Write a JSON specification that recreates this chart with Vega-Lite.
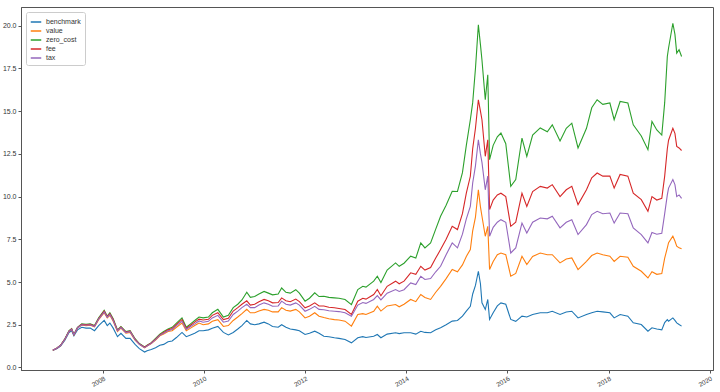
{
  "$schema": "https://vega.github.io/schema/vega-lite/v6.json",
  "width": 692,
  "height": 363,
  "autosize": "none",
  "padding": {"left": 21, "top": 7, "right": 7, "bottom": 22},
  "background": "white",
  "config": {
    "font": "Liberation Sans",
    "view": {"stroke": "#555", "strokeWidth": 1},
    "axis": {"grid": false, "domainColor": "#555", "tickColor": "#555", "labelColor": "#333", "labelFontSize": 7, "tickSize": 3, "labelPadding": 2, "title": null}
  },
  "data": {"values": [
    {"date":"2007-01-04","benchmark":1.00,"value":1.00,"zero_cost":1.00,"fee":1.00,"tax":1.00},
    {"date":"2007-02-01","benchmark":1.10,"value":1.12,"zero_cost":1.13,"fee":1.12,"tax":1.12},
    {"date":"2007-03-01","benchmark":1.25,"value":1.28,"zero_cost":1.30,"fee":1.29,"tax":1.28},
    {"date":"2007-04-01","benchmark":1.60,"value":1.65,"zero_cost":1.68,"fee":1.66,"tax":1.65},
    {"date":"2007-05-01","benchmark":2.05,"value":2.10,"zero_cost":2.15,"fee":2.12,"tax":2.11},
    {"date":"2007-05-20","benchmark":2.15,"value":2.22,"zero_cost":2.27,"fee":2.25,"tax":2.23},
    {"date":"2007-06-05","benchmark":1.85,"value":1.90,"zero_cost":1.93,"fee":1.92,"tax":1.91},
    {"date":"2007-07-01","benchmark":2.20,"value":2.30,"zero_cost":2.35,"fee":2.33,"tax":2.31},
    {"date":"2007-08-01","benchmark":2.35,"value":2.48,"zero_cost":2.55,"fee":2.52,"tax":2.50},
    {"date":"2007-09-01","benchmark":2.30,"value":2.45,"zero_cost":2.52,"fee":2.50,"tax":2.47},
    {"date":"2007-10-01","benchmark":2.30,"value":2.47,"zero_cost":2.55,"fee":2.52,"tax":2.50},
    {"date":"2007-11-01","benchmark":2.15,"value":2.38,"zero_cost":2.45,"fee":2.42,"tax":2.40},
    {"date":"2007-12-01","benchmark":2.45,"value":2.80,"zero_cost":2.90,"fee":2.86,"tax":2.83},
    {"date":"2008-01-10","benchmark":2.75,"value":3.20,"zero_cost":3.35,"fee":3.30,"tax":3.25},
    {"date":"2008-02-01","benchmark":2.45,"value":2.90,"zero_cost":3.00,"fee":2.97,"tax":2.93},
    {"date":"2008-02-20","benchmark":2.60,"value":3.05,"zero_cost":3.20,"fee":3.15,"tax":3.10},
    {"date":"2008-03-15","benchmark":2.30,"value":2.70,"zero_cost":2.85,"fee":2.80,"tax":2.75},
    {"date":"2008-04-15","benchmark":1.80,"value":2.10,"zero_cost":2.20,"fee":2.17,"tax":2.14},
    {"date":"2008-05-10","benchmark":2.00,"value":2.30,"zero_cost":2.40,"fee":2.37,"tax":2.33},
    {"date":"2008-06-15","benchmark":1.70,"value":2.00,"zero_cost":2.10,"fee":2.07,"tax":2.04},
    {"date":"2008-07-15","benchmark":1.70,"value":2.05,"zero_cost":2.15,"fee":2.12,"tax":2.09},
    {"date":"2008-08-20","benchmark":1.35,"value":1.60,"zero_cost":1.68,"fee":1.65,"tax":1.62},
    {"date":"2008-09-20","benchmark":1.10,"value":1.35,"zero_cost":1.40,"fee":1.38,"tax":1.36},
    {"date":"2008-10-28","benchmark":0.90,"value":1.15,"zero_cost":1.20,"fee":1.18,"tax":1.16},
    {"date":"2008-11-15","benchmark":0.98,"value":1.25,"zero_cost":1.30,"fee":1.28,"tax":1.26},
    {"date":"2008-12-15","benchmark":1.05,"value":1.40,"zero_cost":1.45,"fee":1.43,"tax":1.41},
    {"date":"2009-01-15","benchmark":1.15,"value":1.60,"zero_cost":1.70,"fee":1.66,"tax":1.63},
    {"date":"2009-02-15","benchmark":1.30,"value":1.85,"zero_cost":1.95,"fee":1.91,"tax":1.88},
    {"date":"2009-03-15","benchmark":1.35,"value":1.95,"zero_cost":2.10,"fee":2.05,"tax":2.00},
    {"date":"2009-04-15","benchmark":1.50,"value":2.10,"zero_cost":2.25,"fee":2.20,"tax":2.15},
    {"date":"2009-05-15","benchmark":1.55,"value":2.15,"zero_cost":2.35,"fee":2.28,"tax":2.22},
    {"date":"2009-06-15","benchmark":1.75,"value":2.35,"zero_cost":2.60,"fee":2.52,"tax":2.45},
    {"date":"2009-07-25","benchmark":2.05,"value":2.60,"zero_cost":2.90,"fee":2.80,"tax":2.70},
    {"date":"2009-08-25","benchmark":1.80,"value":2.15,"zero_cost":2.35,"fee":2.28,"tax":2.22},
    {"date":"2009-09-25","benchmark":1.90,"value":2.30,"zero_cost":2.55,"fee":2.47,"tax":2.40},
    {"date":"2009-10-25","benchmark":2.00,"value":2.45,"zero_cost":2.75,"fee":2.65,"tax":2.55},
    {"date":"2009-11-25","benchmark":2.15,"value":2.60,"zero_cost":2.95,"fee":2.83,"tax":2.72},
    {"date":"2009-12-25","benchmark":2.15,"value":2.50,"zero_cost":2.90,"fee":2.78,"tax":2.65},
    {"date":"2010-02-01","benchmark":2.20,"value":2.55,"zero_cost":2.95,"fee":2.82,"tax":2.70},
    {"date":"2010-03-01","benchmark":2.30,"value":2.70,"zero_cost":3.20,"fee":3.05,"tax":2.90},
    {"date":"2010-04-10","benchmark":2.40,"value":2.80,"zero_cost":3.40,"fee":3.20,"tax":3.05},
    {"date":"2010-05-20","benchmark":2.05,"value":2.40,"zero_cost":2.95,"fee":2.80,"tax":2.65},
    {"date":"2010-06-25","benchmark":1.90,"value":2.45,"zero_cost":3.05,"fee":2.88,"tax":2.72},
    {"date":"2010-07-30","benchmark":2.05,"value":2.75,"zero_cost":3.50,"fee":3.30,"tax":3.10},
    {"date":"2010-09-01","benchmark":2.25,"value":2.95,"zero_cost":3.70,"fee":3.50,"tax":3.30},
    {"date":"2010-10-01","benchmark":2.45,"value":3.15,"zero_cost":3.95,"fee":3.70,"tax":3.50},
    {"date":"2010-11-05","benchmark":2.75,"value":3.40,"zero_cost":4.40,"fee":3.90,"tax":3.70},
    {"date":"2010-12-01","benchmark":2.55,"value":3.20,"zero_cost":4.10,"fee":3.65,"tax":3.50},
    {"date":"2011-01-01","benchmark":2.50,"value":3.20,"zero_cost":4.15,"fee":3.70,"tax":3.50},
    {"date":"2011-02-01","benchmark":2.55,"value":3.30,"zero_cost":4.30,"fee":3.85,"tax":3.65},
    {"date":"2011-03-10","benchmark":2.65,"value":3.40,"zero_cost":4.45,"fee":3.98,"tax":3.78},
    {"date":"2011-04-10","benchmark":2.55,"value":3.35,"zero_cost":4.35,"fee":3.90,"tax":3.70},
    {"date":"2011-05-10","benchmark":2.40,"value":3.25,"zero_cost":4.25,"fee":3.78,"tax":3.58},
    {"date":"2011-06-20","benchmark":2.35,"value":3.25,"zero_cost":4.30,"fee":3.80,"tax":3.60},
    {"date":"2011-07-15","benchmark":2.50,"value":3.50,"zero_cost":4.65,"fee":4.07,"tax":3.88},
    {"date":"2011-08-15","benchmark":2.35,"value":3.35,"zero_cost":4.40,"fee":3.90,"tax":3.70},
    {"date":"2011-09-15","benchmark":2.25,"value":3.30,"zero_cost":4.35,"fee":3.85,"tax":3.65},
    {"date":"2011-10-25","benchmark":2.20,"value":3.40,"zero_cost":4.55,"fee":4.00,"tax":3.78},
    {"date":"2011-11-20","benchmark":2.15,"value":3.25,"zero_cost":4.35,"fee":3.85,"tax":3.65},
    {"date":"2011-12-31","benchmark":1.93,"value":2.90,"zero_cost":3.88,"fee":3.49,"tax":3.29},
    {"date":"2012-02-01","benchmark":2.00,"value":3.00,"zero_cost":4.05,"fee":3.60,"tax":3.40},
    {"date":"2012-03-10","benchmark":2.12,"value":3.20,"zero_cost":4.37,"fee":3.78,"tax":3.58},
    {"date":"2012-04-10","benchmark":2.00,"value":3.00,"zero_cost":4.15,"fee":3.60,"tax":3.40},
    {"date":"2012-05-15","benchmark":1.83,"value":2.92,"zero_cost":4.17,"fee":3.60,"tax":3.38},
    {"date":"2012-06-20","benchmark":1.80,"value":2.85,"zero_cost":4.10,"fee":3.52,"tax":3.32},
    {"date":"2012-07-30","benchmark":1.74,"value":2.80,"zero_cost":4.07,"fee":3.49,"tax":3.29},
    {"date":"2012-09-01","benchmark":1.70,"value":2.78,"zero_cost":4.05,"fee":3.45,"tax":3.27},
    {"date":"2012-10-15","benchmark":1.64,"value":2.71,"zero_cost":3.98,"fee":3.39,"tax":3.20},
    {"date":"2012-11-30","benchmark":1.44,"value":2.42,"zero_cost":3.68,"fee":3.10,"tax":3.00},
    {"date":"2013-01-15","benchmark":1.74,"value":3.10,"zero_cost":4.56,"fee":3.88,"tax":3.65},
    {"date":"2013-02-20","benchmark":1.80,"value":3.15,"zero_cost":4.75,"fee":4.05,"tax":3.80},
    {"date":"2013-03-15","benchmark":1.75,"value":3.10,"zero_cost":4.70,"fee":4.00,"tax":3.75},
    {"date":"2013-05-10","benchmark":1.83,"value":3.29,"zero_cost":5.05,"fee":4.27,"tax":3.98},
    {"date":"2013-06-05","benchmark":1.93,"value":3.58,"zero_cost":5.34,"fee":4.56,"tax":4.20},
    {"date":"2013-07-01","benchmark":1.74,"value":3.30,"zero_cost":4.97,"fee":4.20,"tax":3.95},
    {"date":"2013-08-15","benchmark":1.95,"value":3.60,"zero_cost":5.70,"fee":4.75,"tax":4.35},
    {"date":"2013-10-15","benchmark":2.03,"value":3.68,"zero_cost":6.12,"fee":5.05,"tax":4.56},
    {"date":"2013-11-10","benchmark":1.98,"value":3.55,"zero_cost":5.92,"fee":4.90,"tax":4.45},
    {"date":"2013-12-15","benchmark":2.03,"value":3.70,"zero_cost":6.10,"fee":5.05,"tax":4.55},
    {"date":"2014-02-01","benchmark":2.03,"value":3.98,"zero_cost":6.51,"fee":5.54,"tax":4.95},
    {"date":"2014-03-10","benchmark":1.95,"value":3.85,"zero_cost":6.40,"fee":5.45,"tax":4.85},
    {"date":"2014-04-15","benchmark":2.12,"value":4.27,"zero_cost":7.29,"fee":5.92,"tax":5.34},
    {"date":"2014-05-15","benchmark":2.05,"value":4.10,"zero_cost":7.00,"fee":5.70,"tax":5.15},
    {"date":"2014-06-25","benchmark":2.03,"value":3.98,"zero_cost":7.29,"fee":5.85,"tax":5.20},
    {"date":"2014-08-01","benchmark":2.20,"value":4.40,"zero_cost":8.10,"fee":6.40,"tax":5.60},
    {"date":"2014-09-05","benchmark":2.32,"value":4.75,"zero_cost":8.85,"fee":6.90,"tax":5.92},
    {"date":"2014-10-15","benchmark":2.50,"value":5.20,"zero_cost":9.50,"fee":7.50,"tax":6.60},
    {"date":"2014-11-28","benchmark":2.71,"value":5.73,"zero_cost":10.31,"fee":8.26,"tax":7.29},
    {"date":"2015-01-05","benchmark":2.75,"value":5.60,"zero_cost":10.30,"fee":8.07,"tax":7.00},
    {"date":"2015-02-10","benchmark":3.00,"value":6.00,"zero_cost":11.40,"fee":9.00,"tax":7.80},
    {"date":"2015-03-10","benchmark":3.30,"value":6.50,"zero_cost":13.00,"fee":10.20,"tax":8.70},
    {"date":"2015-04-08","benchmark":3.58,"value":6.90,"zero_cost":14.50,"fee":11.19,"tax":9.43},
    {"date":"2015-04-25","benchmark":4.30,"value":8.00,"zero_cost":15.50,"fee":12.80,"tax":10.80},
    {"date":"2015-05-15","benchmark":4.80,"value":8.80,"zero_cost":17.50,"fee":14.00,"tax":11.80},
    {"date":"2015-06-05","benchmark":5.63,"value":10.40,"zero_cost":20.06,"fee":15.67,"tax":13.33},
    {"date":"2015-06-20","benchmark":4.90,"value":9.40,"zero_cost":18.90,"fee":15.00,"tax":12.50},
    {"date":"2015-07-01","benchmark":3.78,"value":8.85,"zero_cost":18.00,"fee":14.50,"tax":12.00},
    {"date":"2015-07-25","benchmark":3.39,"value":7.68,"zero_cost":15.67,"fee":12.36,"tax":10.40},
    {"date":"2015-08-12","benchmark":3.98,"value":8.26,"zero_cost":17.13,"fee":13.33,"tax":11.20},
    {"date":"2015-08-25","benchmark":2.81,"value":5.73,"zero_cost":12.16,"fee":9.24,"tax":7.68},
    {"date":"2015-09-20","benchmark":3.20,"value":6.20,"zero_cost":13.00,"fee":9.80,"tax":8.20},
    {"date":"2015-10-20","benchmark":3.60,"value":6.60,"zero_cost":13.50,"fee":10.10,"tax":8.50},
    {"date":"2015-11-15","benchmark":3.78,"value":6.70,"zero_cost":13.72,"fee":10.20,"tax":8.65},
    {"date":"2015-12-20","benchmark":3.70,"value":6.60,"zero_cost":13.10,"fee":10.00,"tax":8.50},
    {"date":"2016-01-25","benchmark":2.81,"value":5.34,"zero_cost":10.60,"fee":8.26,"tax":6.70},
    {"date":"2016-03-01","benchmark":2.70,"value":5.50,"zero_cost":11.00,"fee":8.50,"tax":7.00},
    {"date":"2016-04-15","benchmark":3.00,"value":6.51,"zero_cost":13.43,"fee":10.20,"tax":8.45},
    {"date":"2016-05-20","benchmark":2.95,"value":6.02,"zero_cost":12.36,"fee":9.43,"tax":7.87},
    {"date":"2016-07-01","benchmark":3.10,"value":6.50,"zero_cost":13.60,"fee":10.30,"tax":8.50},
    {"date":"2016-08-25","benchmark":3.20,"value":6.70,"zero_cost":14.02,"fee":10.60,"tax":8.75},
    {"date":"2016-10-15","benchmark":3.20,"value":6.60,"zero_cost":13.80,"fee":10.50,"tax":8.70},
    {"date":"2016-11-20","benchmark":3.29,"value":6.60,"zero_cost":14.20,"fee":10.70,"tax":8.85},
    {"date":"2017-01-15","benchmark":3.10,"value":6.12,"zero_cost":13.25,"fee":10.00,"tax":8.17},
    {"date":"2017-03-01","benchmark":3.25,"value":6.35,"zero_cost":14.00,"fee":10.40,"tax":8.50},
    {"date":"2017-04-10","benchmark":3.29,"value":6.41,"zero_cost":14.30,"fee":10.60,"tax":8.65},
    {"date":"2017-05-25","benchmark":2.90,"value":5.73,"zero_cost":12.85,"fee":9.53,"tax":7.78},
    {"date":"2017-07-25","benchmark":3.10,"value":6.21,"zero_cost":14.00,"fee":10.40,"tax":8.36},
    {"date":"2017-09-01","benchmark":3.20,"value":6.55,"zero_cost":15.20,"fee":11.10,"tax":8.95},
    {"date":"2017-10-10","benchmark":3.29,"value":6.70,"zero_cost":15.67,"fee":11.38,"tax":9.14},
    {"date":"2017-11-20","benchmark":3.25,"value":6.60,"zero_cost":15.40,"fee":11.20,"tax":9.00},
    {"date":"2018-01-10","benchmark":3.20,"value":6.51,"zero_cost":15.48,"fee":11.20,"tax":9.04},
    {"date":"2018-02-10","benchmark":2.90,"value":6.21,"zero_cost":14.50,"fee":10.50,"tax":8.45},
    {"date":"2018-03-25","benchmark":3.10,"value":6.51,"zero_cost":15.57,"fee":11.30,"tax":9.04},
    {"date":"2018-05-20","benchmark":3.00,"value":6.45,"zero_cost":15.48,"fee":11.20,"tax":9.00},
    {"date":"2018-06-28","benchmark":2.61,"value":5.92,"zero_cost":14.20,"fee":10.20,"tax":8.17},
    {"date":"2018-08-25","benchmark":2.51,"value":5.63,"zero_cost":13.55,"fee":9.82,"tax":7.78},
    {"date":"2018-10-12","benchmark":2.12,"value":5.24,"zero_cost":12.75,"fee":9.14,"tax":7.29},
    {"date":"2018-11-10","benchmark":2.32,"value":5.60,"zero_cost":14.40,"fee":10.00,"tax":7.90},
    {"date":"2018-12-15","benchmark":2.25,"value":5.45,"zero_cost":13.90,"fee":9.80,"tax":7.80},
    {"date":"2019-01-20","benchmark":2.20,"value":5.50,"zero_cost":13.60,"fee":9.90,"tax":7.85},
    {"date":"2019-02-10","benchmark":2.63,"value":6.40,"zero_cost":15.50,"fee":11.20,"tax":9.00},
    {"date":"2019-03-01","benchmark":2.80,"value":7.00,"zero_cost":18.20,"fee":12.80,"tax":10.10},
    {"date":"2019-03-10","benchmark":2.71,"value":7.30,"zero_cost":18.70,"fee":13.30,"tax":10.50},
    {"date":"2019-04-10","benchmark":2.90,"value":7.68,"zero_cost":20.15,"fee":14.00,"tax":11.00},
    {"date":"2019-04-25","benchmark":2.75,"value":7.40,"zero_cost":19.50,"fee":13.70,"tax":10.70},
    {"date":"2019-05-08","benchmark":2.61,"value":7.10,"zero_cost":18.40,"fee":12.94,"tax":10.00},
    {"date":"2019-05-25","benchmark":2.51,"value":7.00,"zero_cost":18.60,"fee":12.85,"tax":10.10},
    {"date":"2019-06-12","benchmark":2.42,"value":6.95,"zero_cost":18.20,"fee":12.70,"tax":9.90}
  ]},
  "transform": [
    {"fold": ["benchmark", "value", "zero_cost", "fee", "tax"], "as": ["series", "val"]}
  ],
  "mark": {"type": "line", "strokeWidth": 1.1, "clip": true},
  "encoding": {
    "x": {
      "field": "date", "type": "temporal",
      "scale": {"domain": ["2006-05-19", "2020-01-25"]},
      "axis": {
        "values": [{"year": 2008}, {"year": 2010}, {"year": 2012}, {"year": 2014}, {"year": 2016}, {"year": 2018}, {"year": 2020}],
        "format": "%Y", "labelAngle": -30, "labelAlign": "right", "labelBaseline": "top", "labelFontSize": 6.5
      }
    },
    "y": {
      "field": "val", "type": "quantitative",
      "scale": {"domain": [-0.15, 21.1], "nice": false, "zero": false},
      "axis": {"values": [0, 2.5, 5, 7.5, 10, 12.5, 15, 17.5, 20], "format": ".1f"}
    },
    "color": {
      "field": "series", "type": "nominal",
      "scale": {"domain": ["benchmark", "value", "zero_cost", "fee", "tax"], "range": ["#1f77b4", "#ff7f0e", "#2ca02c", "#d62728", "#9467bd"]},
      "legend": {
        "title": null, "orient": "top-left", "offset": 5,
        "symbolType": "stroke", "symbolSize": 110, "symbolStrokeWidth": 1.5,
        "labelFontSize": 7, "labelColor": "#333", "rowPadding": -1,
        "fillColor": "white", "strokeColor": "#ccc", "cornerRadius": 2, "padding": 4
      }
    }
  }
}
